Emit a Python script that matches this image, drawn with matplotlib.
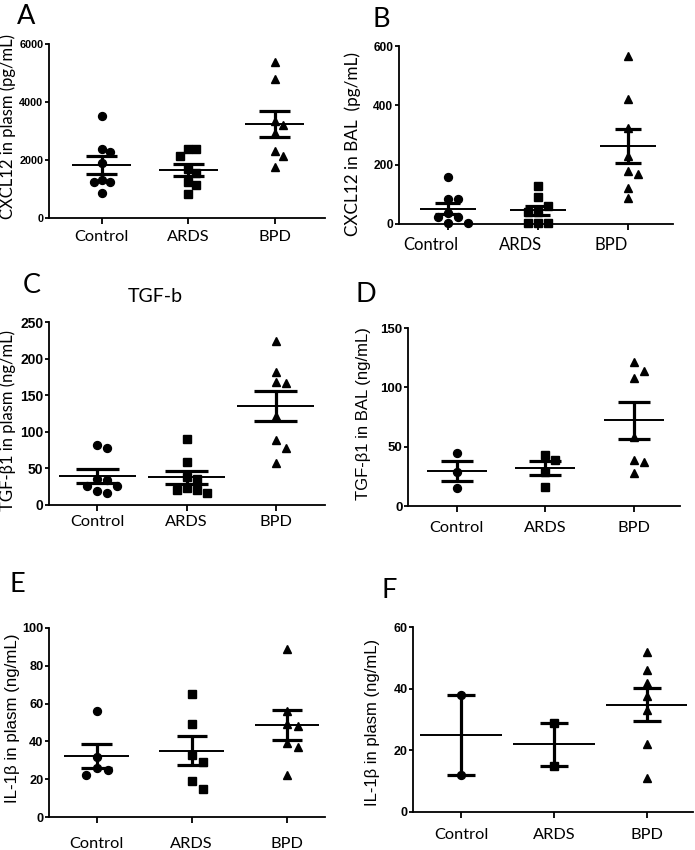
import numpy as np
import matplotlib.pyplot as plt
import matplotlib.transforms as mtransforms

# значения
groups = ['Control', 'ARDS', 'BPD']

a_control = [3534, 2379, 2265, 1885, 1310, 1230, 1230, 873]
a_ards = [2379, 2379, 2138, 1679, 1563, 1230, 1138, 817]
a_bpd = [5390, 4783, 3355, 3207, 2920, 2321, 2138, 1748]

b_control = [158, 83, 83, 36, 25, 25, 2, 2]
b_ards = [128, 92, 61, 40, 40, 2, 2, 2]
b_bpd = [566, 420, 322, 230, 180, 168, 123, 87]

c_control = [82, 78, 36, 34, 26, 26, 19, 17]
c_ards = [90, 59, 38, 36, 23, 21, 20, 16]
c_bpd = [224, 182, 168, 166, 121, 89, 78, 57]

d_control = [45, 29, 15]
d_ards = [43, 39, 29, 16]
d_bpd = [121, 114, 108, 58, 39, 37, 28]

e_control = [56, 32, 26, 25, 22]
e_ards = [65, 49, 33, 29, 19, 15]
e_bpd = [89, 56, 49, 48, 39, 37, 22]

f_control = [38, 12]
f_ards = [29, 15]
f_bpd = [52, 46, 42, 37.5, 33, 22, 11]

CAL = 'Lato'
ARIAL = 'Liberation Sans'
W, H = 695, 850

fig = plt.figure(figsize=(W / 100, H / 100), dpi=100)


def px_axes(l, t, r, b):
    return fig.add_axes([l / W, 1 - b / H, (r - l) / W, (b - t) / H])


def swarm(ax, x0, vals, d):
    # простой beeswarm в пикселях
    pts = ax.transData.transform(np.column_stack([np.full(len(vals), x0), vals]))
    placed = []
    xs = np.zeros(len(vals))
    for i in np.argsort(-vals, kind='stable'):
        y = pts[i, 1]
        for k in [0, 1, -1, 2, -2, 3, -3]:
            x = pts[i, 0] + k * d
            if all((x - px) ** 2 + (y - py) ** 2 >= (0.95 * d) ** 2 for px, py in placed):
                break
        placed.append((x, y))
        xs[i] = x
    inv = ax.transData.inverted()
    return np.array([inv.transform((x, 0))[0] for x in xs])


def panel(box, data, ymax, ystep, xlim, ylabel, lab_xy, tick_size=8,
          ylab_font=CAL, ylab_size=12, xlab_size=11.8, xpad=3, half_mean=0.34,
          half_cap=0.18, d=8, ms=5.7):
    ax = px_axes(*box)
    ax.set_xlim(*xlim)
    ax.set_ylim(0, ymax)
    for s in ['top', 'right']:
        ax.spines[s].set_visible(False)
    for s in ['left', 'bottom']:
        ax.spines[s].set_linewidth(1.3)
    ax.set_yticks(np.arange(0, ymax + 1, ystep))
    ax.set_yticklabels([str(int(v)) for v in np.arange(0, ymax + 1, ystep)],
                       fontfamily=ARIAL, fontweight='bold', fontsize=tick_size)
    ax.set_xticks(range(len(groups)))
    ax.set_xticklabels(groups, fontfamily=CAL, fontsize=xlab_size)
    ax.tick_params(axis='y', length=3, width=1.3, pad=1)
    ax.tick_params(axis='x', length=4, width=1.3, pad=xpad)
    ax.set_ylabel(ylabel, fontfamily=ylab_font, fontsize=ylab_size, va='center')
    ax.yaxis.set_label_coords(*lab_xy)

    for i, (vals, m) in enumerate(zip(data, ['o', 's', '^'])):
        vals = np.array(vals, float)
        xs = swarm(ax, i, vals, d)
        ax.plot(xs, vals, m, color='black', ms=ms, ls='none', clip_on=False, zorder=3)
        mean = vals.mean()
        sem = vals.std(ddof=1) / np.sqrt(len(vals))
        ax.hlines(mean, i - half_mean, i + half_mean, color='black', lw=1.4, zorder=4)
        ax.hlines([mean - sem, mean + sem], i - half_cap, i + half_cap, color='black',
                  lw=2.3, zorder=4)
        ax.vlines(i, mean - sem, mean + sem, color='black', lw=2.3, zorder=4)
    return ax


panel((49, 44, 325, 218), [a_control, a_ards, a_bpd], 6000, 2000, (-0.61, 2.58),
      'CXCL12 in plasm (pg/mL)', (-0.149, 0.523), tick_size=7.8, xpad=4.5)
ax_b = panel((399, 46, 673, 224), [b_control, b_ards, b_bpd], 600, 200, (-0.54, 2.5),
             'CXCL12 in BAL  (pg/mL)', (-0.168, 0.452), tick_size=8.6, ylab_size=12.3,
             xlab_size=12, xpad=5, half_mean=0.31, half_cap=0.14, d=10)
# в панели B подписи сдвинуты влево относительно рисок
shift = mtransforms.ScaledTranslation(-0.17, 0, fig.dpi_scale_trans)
for lab in ax_b.get_xticklabels():
    lab.set_transform(lab.get_transform() + shift)

panel((49, 322, 325, 505), [c_control, c_ards, c_bpd], 250, 50, (-0.54, 2.55),
      'TGF-β1 in plasm (ng/mL)', (-0.149, 0.464), tick_size=10, half_mean=0.43,
      half_cap=0.24, d=10)
panel((408, 328, 680, 506), [d_control, d_ards, d_bpd], 150, 50, (-0.55, 2.52),
      'TGF-β1 in BAL (ng/mL)', (-0.165, 0.52), tick_size=9.5,
      ylab_font=ARIAL, ylab_size=12, xpad=7, d=10)
panel((49, 628, 325, 817), [e_control, e_ards, e_bpd], 100, 20, (-0.5, 2.4),
      'IL-1β in plasm (ng/mL)', (-0.134, 0.521), tick_size=9.2, ylab_font=ARIAL,
      ylab_size=12.2, xpad=10.5, half_cap=0.16, d=11)
panel((413, 627, 693, 812), [f_control, f_ards, f_bpd], 60, 20, (-0.52, 2.5),
      'IL-1β in plasm (ng/mL)', (-0.143, 0.486), tick_size=9, ylab_font=ARIAL,
      ylab_size=12, xpad=7.5, half_mean=0.44, half_cap=0.15, d=10)

# буквы панелей
for letter, x, y in [('A', 17, 24), ('B', 372, 27), ('C', 23, 293), ('D', 355, 302),
                     ('E', 10, 592), ('F', 382, 598)]:
    fig.text(x / W, 1 - y / H, letter, fontfamily=CAL, fontsize=19.5, va='baseline')

fig.text(155 / W, 1 - 302 / H, 'TGF-b', fontfamily=CAL, fontsize=14,
         ha='center', va='baseline')

fig.savefig('out.png', dpi=100)
